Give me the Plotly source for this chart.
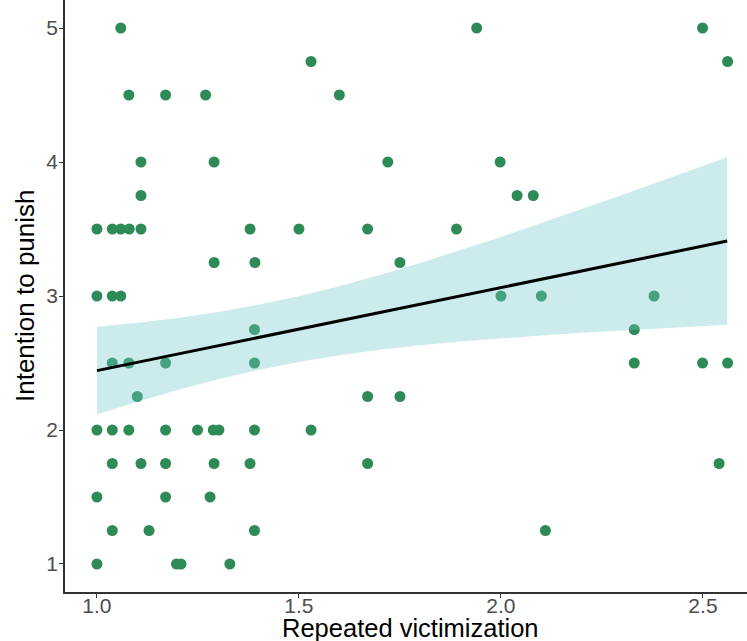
import plotly.graph_objects as go

# Repeated victimization (x) and intention to punish (y)
victimization = [
    1.059, 1.940, 2.499,
    1.530, 2.561,
    1.079, 1.170, 1.269, 1.600,
    1.109, 1.290, 1.720, 1.998,
    1.109, 2.040, 2.080,
    1.000, 1.038, 1.059, 1.080, 1.109, 1.379, 1.500, 1.670, 1.890,
    1.290, 1.391, 1.750,
    1.000, 1.038, 1.059, 2.000, 2.100, 2.379,
    1.390, 2.330,
    1.038, 1.079, 1.170, 1.390, 2.330, 2.499, 2.561,
    1.100, 1.670, 1.750,
    1.000, 1.038, 1.079, 1.170, 1.249, 1.288, 1.302, 1.390, 1.530,
    1.038, 1.109, 1.170, 1.290, 1.379, 1.670, 2.540,
    1.000, 1.170, 1.280,
    1.038, 1.129, 1.390, 2.110,
    1.000, 1.197, 1.208, 1.329,
]
punish = (
    [5.0] * 3 + [4.75] * 2 + [4.5] * 4 + [4.0] * 4 + [3.75] * 3 + [3.5] * 9
    + [3.25] * 3 + [3.0] * 6 + [2.75] * 2 + [2.5] * 7 + [2.25] * 3 + [2.0] * 9
    + [1.75] * 7 + [1.5] * 3 + [1.25] * 4 + [1.0] * 4
)

# Fitted line and 95% confidence band
fit_x = [1.0, 1.1, 1.2, 1.3, 1.4, 1.5, 1.6, 1.7, 1.8, 1.9,
         2.0, 2.1, 2.2, 2.3, 2.4, 2.5, 2.56]
fit_y = [2.443, 2.505, 2.567, 2.629, 2.691, 2.753, 2.815, 2.877, 2.939, 3.001,
         3.063, 3.125, 3.187, 3.249, 3.311, 3.373, 3.410]
band_upper = [2.770, 2.800, 2.836, 2.880, 2.934, 2.998, 3.072, 3.156, 3.246, 3.342,
              3.441, 3.544, 3.648, 3.754, 3.862, 3.970, 4.035]
band_lower = [2.116, 2.210, 2.298, 2.378, 2.448, 2.508, 2.558, 2.598, 2.632, 2.660,
              2.685, 2.706, 2.726, 2.744, 2.760, 2.776, 2.785]

x_ticks = [1.0, 1.5, 2.0, 2.5]
x_tick_labels = ["1.0", "1.5", "2.0", "2.5"]
y_ticks = [1, 2, 3, 4, 5]
y_tick_labels = ["1", "2", "3", "4", "5"]

fig = go.Figure()
fig.add_trace(go.Scatter(
    x=victimization, y=punish, mode="markers",
    marker=dict(size=11, color="#2E8B57", line=dict(width=0)),
    showlegend=False, hoverinfo="skip",
))
fig.add_trace(go.Scatter(
    x=fit_x + fit_x[::-1],
    y=band_upper + band_lower[::-1],
    fill="toself", fillcolor="rgba(110,200,202,0.36)",
    line=dict(width=0), mode="lines",
    showlegend=False, hoverinfo="skip",
))
fig.add_trace(go.Scatter(
    x=fit_x, y=fit_y, mode="lines",
    line=dict(color="black", width=3), showlegend=False, hoverinfo="skip",
))

font_family = "Liberation Sans, Arial, sans-serif"
axis_common = dict(
    showgrid=False, zeroline=False,
    showline=True, linecolor="#333333", linewidth=1.5,
    ticks="outside", ticklen=4, tickcolor="#333333", tickwidth=1.2,
    tickfont=dict(size=21, color="#4D4D4D", family=font_family),
)
fig.update_layout(
    width=747, height=641,
    margin=dict(l=65, r=0, t=0, b=49),
    paper_bgcolor="white", plot_bgcolor="white",
    font=dict(family=font_family),
    hovermode=False,
    xaxis=dict(range=[0.921, 2.609], tickvals=x_ticks, ticktext=x_tick_labels,
               ticklabelstandoff=-10, **axis_common),
    yaxis=dict(range=[0.791, 5.209], tickvals=y_ticks, ticktext=y_tick_labels,
               ticklabelstandoff=-3, **axis_common),
    annotations=[
        dict(text="Repeated victimization", xref="paper", yref="paper",
             x=(410 - 65) / 682, y=0, yshift=-36,
             showarrow=False, xanchor="center", yanchor="middle",
             font=dict(size=25.5, color="black", family=font_family)),
        dict(text="Intention to punish", xref="paper", yref="paper",
             x=0, xshift=-40, y=0.5, textangle=-90,
             showarrow=False, xanchor="center", yanchor="middle",
             font=dict(size=26, color="black", family=font_family)),
    ],
)

fig.write_html(
    "out.html",
    config={"displayModeBar": False},
    post_script="document.body.style.margin='0px';document.body.style.overflow='hidden';",
)
